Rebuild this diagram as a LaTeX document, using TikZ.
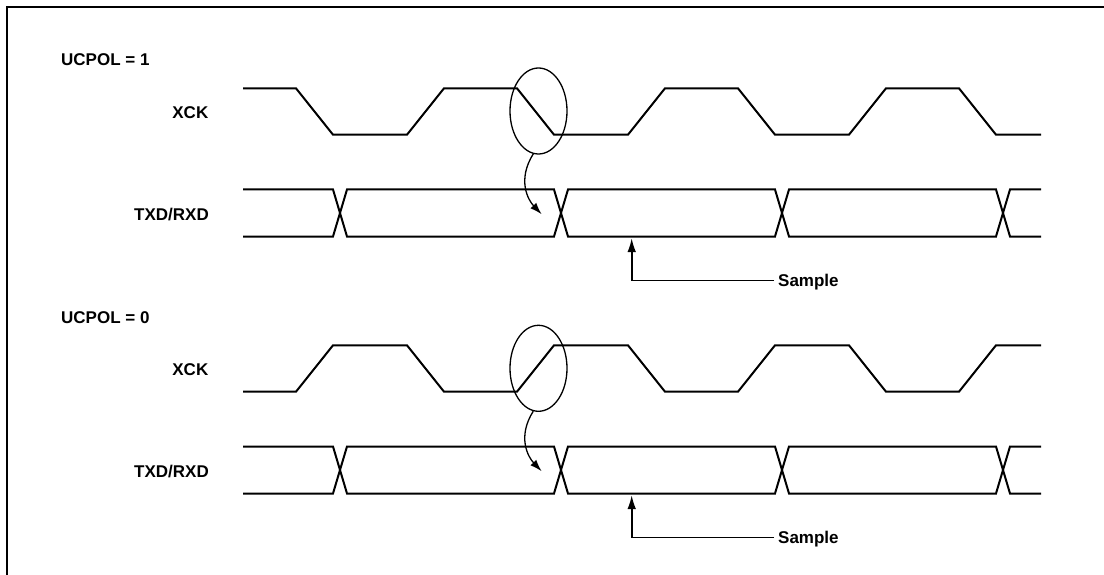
\documentclass[tikz,border=0pt]{standalone}
\usepackage{fontspec}
\setmainfont{Liberation Sans}
\usetikzlibrary{arrows.meta,shapes.geometric}
\begin{document}
\begin{tikzpicture}[x=1pt,y=-1pt,
  wave/.style={line width=2pt, line join=miter},
  lbl/.style={font=\fontsize{17}{20}\selectfont\bfseries, inner sep=0pt},
  samplelbl/.style={lbl, text height=12.5pt, text depth=0pt, inner sep=0pt},
  frameline/.style={line width=2pt},
  ring/.style={draw, ellipse, line width=1.3pt, minimum width=57pt, minimum height=86pt, inner sep=0pt},
  hint/.style={line width=1.3pt, -{Latex[length=12pt,width=8pt]}},
  samplearrow/.style={line width=1.8pt, -{Latex[length=14pt,width=8.5pt]}},
]
\useasboundingbox (0,0) rectangle (1104,575);
\draw[frameline] (6.7,576) -- (6.7,6.7) -- (1105,6.7);

% ---------- UCPOL = 1 ----------
\begin{scope}
\def\ckS{88.3}\def\ckT{134.7}
\node[lbl, anchor=base west] (polA) at (61,66) {UCPOL = 1};
\node[lbl, anchor=base east] (xckA) at (208.5,118.3) {XCK};
\node[lbl, anchor=base east] (dataA) at (209,220) {TXD/RXD};
\draw[wave] (243,\ckS) -- (296,\ckS) -- (333,\ckT) -- (407,\ckT) -- (444,\ckS) -- (517,\ckS) -- (554,\ckT) -- (628,\ckT) -- (665,\ckS) -- (738,\ckS) -- (775,\ckT) -- (849,\ckT) -- (886,\ckS) -- (959,\ckS) -- (996,\ckT) -- (1041,\ckT);
\draw[wave] (243,189.5) -- (333,189.5) -- (347,236.5) -- (554,236.5) -- (568,189.5) -- (775,189.5) -- (789,236.5) -- (996,236.5) -- (1010,189.5) -- (1041,189.5);
\draw[wave] (243,236.5) -- (333,236.5) -- (347,189.5) -- (554,189.5) -- (568,236.5) -- (775,236.5) -- (789,189.5) -- (996,189.5) -- (1010,236.5) -- (1041,236.5);
\node[ring] (ringA) at (538.5,111) {};
\coordinate (hintA) at (541.7,214.3);
\draw[hint] (ringA.263) .. controls (517,180) and (528,200) .. (hintA);
\coordinate (sampA) at (631.7,238);
\node[samplelbl, anchor=base west] (sampleA) at (778,286.7) {Sample};
\draw[samplearrow] ([xshift=-4pt]sampleA.west) -| (sampA);
\end{scope}

% ---------- UCPOL = 0 ----------
\begin{scope}[shift={(0,257)}]
\def\ckS{134.7}\def\ckT{88.3}
\node[lbl, anchor=base west] (polB) at (61,66) {UCPOL = 0};
\node[lbl, anchor=base east] (xckB) at (208.5,118.3) {XCK};
\node[lbl, anchor=base east] (dataB) at (209,220) {TXD/RXD};
\draw[wave] (243,\ckS) -- (296,\ckS) -- (333,\ckT) -- (407,\ckT) -- (444,\ckS) -- (517,\ckS) -- (554,\ckT) -- (628,\ckT) -- (665,\ckS) -- (738,\ckS) -- (775,\ckT) -- (849,\ckT) -- (886,\ckS) -- (959,\ckS) -- (996,\ckT) -- (1041,\ckT);
\draw[wave] (243,189.5) -- (333,189.5) -- (347,236.5) -- (554,236.5) -- (568,189.5) -- (775,189.5) -- (789,236.5) -- (996,236.5) -- (1010,189.5) -- (1041,189.5);
\draw[wave] (243,236.5) -- (333,236.5) -- (347,189.5) -- (554,189.5) -- (568,236.5) -- (775,236.5) -- (789,189.5) -- (996,189.5) -- (1010,236.5) -- (1041,236.5);
\node[ring] (ringB) at (538.5,111.3) {};
\coordinate (hintB) at (541.7,214.3);
\draw[hint] (ringB.263) .. controls (517,180) and (528,200) .. (hintB);
\coordinate (sampB) at (631.7,238);
\node[samplelbl, anchor=base west] (sampleB) at (778,286.7) {Sample};
\draw[samplearrow] ([xshift=-4pt]sampleB.west) -| (sampB);
\end{scope}
\end{tikzpicture}
\end{document}
